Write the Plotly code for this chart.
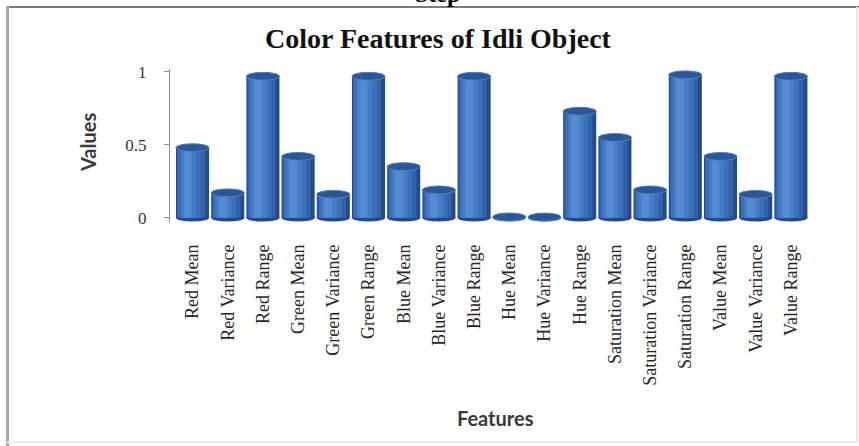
import plotly.graph_objects as go

# Colour features extracted from the idli image (normalised 0..1)
categories = [
    "Red Mean", "Red Variance", "Red Range",
    "Green Mean", "Green Variance", "Green Range",
    "Blue Mean", "Blue Variance", "Blue Range",
    "Hue Mean", "Hue Variance", "Hue Range",
    "Saturation Mean", "Saturation Variance", "Saturation Range",
    "Value Mean", "Value Variance", "Value Range",
]
values = [
    0.48, 0.17, 0.97,
    0.42, 0.16, 0.97,
    0.35, 0.19, 0.97,
    0.005, 0.004, 0.73,
    0.55, 0.19, 0.98,
    0.42, 0.16, 0.97,
]
y_ticks = [0, 0.5, 1]
y_tick_text = ["0", "0.5", "1"]

W, H = 859, 446
M_L, M_R, M_T, M_B = 170, 47, 69, 224
Y_RANGE = [-0.03, 1.02]
X_RANGE = [-0.64, len(categories) - 0.4]

BAR_W = 0.94
CAP_H = 0.054  # vertical size of the elliptical cylinder cap, in value units

# Shading layers that give each bar a cylindrical look: (left, right, colour)
layers = [
    (-BAR_W / 2, BAR_W / 2, "#254b86"),
    (-0.44, 0.36, "#3262a8"),
    (-0.40, 0.24, "#3c70b9"),
    (-0.33, 0.10, "#477dc6"),
    (-0.25, -0.03, "#548bd2"),
]

fig = go.Figure()
for left, right, colour in layers:
    fig.add_trace(go.Bar(
        x=categories, y=values,
        offset=left, width=right - left,
        marker=dict(color=colour, line=dict(width=0)),
        hoverinfo="skip", showlegend=False,
    ))

# Elliptical bottoms and tops of the cylinders
shapes = []
for i, v in enumerate(values):
    shapes.append(dict(
        type="circle", xref="x", yref="y", layer="below",
        x0=i - BAR_W / 2, x1=i + BAR_W / 2,
        y0=-CAP_H / 2, y1=CAP_H / 2,
        fillcolor="#254b86", line=dict(width=0),
    ))
    shapes.append(dict(
        type="circle", xref="x", yref="y", layer="above",
        x0=i - BAR_W / 2, x1=i + BAR_W / 2,
        y0=v - CAP_H / 2, y1=v + CAP_H / 2,
        fillcolor="#2c5694", line=dict(color="#4b7fc4", width=1),
    ))


def px_x(px):
    return (px - M_L) / (W - M_L - M_R)


def px_y(py):
    return 1 - (py - M_T) / (H - M_T - M_B)


# Outer frame of the chart
shapes += [
    dict(type="line", xref="paper", yref="paper", layer="above",
         x0=px_x(6), x1=px_x(859), y0=px_y(7), y1=px_y(7),
         line=dict(color="#7a7a7a", width=2)),
    dict(type="line", xref="paper", yref="paper", layer="above",
         x0=px_x(7.5), x1=px_x(7.5), y0=px_y(6), y1=px_y(446),
         line=dict(color="#a8a8a8", width=3)),
    dict(type="line", xref="paper", yref="paper", layer="above",
         x0=px_x(7), x1=px_x(857), y0=px_y(442), y1=px_y(442),
         line=dict(color="#ececec", width=2)),
    dict(type="line", xref="paper", yref="paper", layer="above",
         x0=px_x(857), x1=px_x(857), y0=px_y(7), y1=px_y(442),
         line=dict(color="#e6e6e6", width=2)),
]

annotations = [
    dict(text="Values", xref="paper", yref="paper",
         x=px_x(88), y=px_y(143), textangle=-90, showarrow=False,
         xanchor="center", yanchor="middle",
         font=dict(family="Lato", size=20, color="#3a3a3a", weight="bold")),
    dict(text="Features", xref="paper", yref="paper",
         x=px_x(495), y=px_y(418), showarrow=False,
         xanchor="center", yanchor="middle",
         font=dict(family="Lato", size=20, color="#3a3a3a", weight="bold")),
    dict(text="Step", xref="paper", yref="paper",
         x=px_x(437), y=px_y(9), showarrow=False,
         xanchor="center", yanchor="bottom",
         font=dict(family="Liberation Serif", size=24, color="#000000", weight="bold")),
]

fig.update_layout(
    width=W, height=H,
    margin=dict(l=M_L, r=M_R, t=M_T, b=M_B, autoexpand=False),
    paper_bgcolor="white", plot_bgcolor="white",
    barmode="overlay",
    title=dict(
        text="Color Features of Idli Object",
        x=438 / W, xref="container", xanchor="center",
        y=1 - 38 / H, yref="container", yanchor="middle",
        font=dict(family="Liberation Serif", size=28, color="#111111", weight="bold"),
    ),
    xaxis=dict(
        type="category", range=X_RANGE, showline=False, showgrid=False,
        zeroline=False, ticks="", tickangle=-90, ticklabelstandoff=18,
        tickfont=dict(family="Liberation Serif", size=18, color="#262626"),
    ),
    yaxis=dict(
        range=Y_RANGE, tickvals=y_ticks, ticktext=y_tick_text,
        showline=True, linecolor="#8c8c8c", linewidth=1,
        ticks="outside", ticklen=5, tickcolor="#8c8c8c",
        showgrid=False, zeroline=False, ticklabelstandoff=14,
        tickfont=dict(family="Liberation Serif", size=17, color="#333333"),
    ),
    shapes=shapes,
    annotations=annotations,
)

fig.write_html("out.html")
